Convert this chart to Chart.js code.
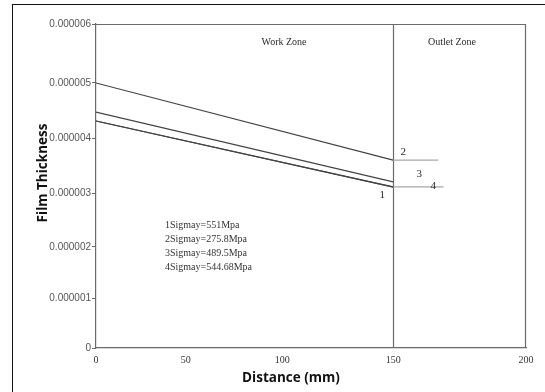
<!DOCTYPE html>
<html>
<head>
<meta charset="utf-8">
<script src="https://cdn.jsdelivr.net/npm/chart.js@4/dist/chart.umd.min.js"></script>
<style>
  html, body { margin: 0; padding: 0; background: #fff; }
  #wrap { position: relative; width: 545px; height: 392px; overflow: hidden; }
  #wrap canvas { position: absolute; left: 0; top: 0; }
  #frame { position: absolute; left: 12px; top: 4px; width: 700px; height: 600px;
           border-left: 1.5px solid #111; border-top: 1.5px solid #111; pointer-events: none; }
</style>
</head>
<body>
<div id="wrap">
  <canvas id="film" width="545" height="392"></canvas>
  <div id="frame"></div>
</div>
<script>
// Film thickness along the contact (work zone 0-150 mm, outlet zone beyond)
const curve1X = [0, 150];
const curve1Y = [4.31e-6, 3.11e-6];          // 1: Sigmay = 551 MPa
const curve2X = [0, 150, 167];
const curve2Y = [5.00e-6, 3.60e-6, 3.60e-6]; // 2: Sigmay = 275.8 MPa
const curve3X = [0, 150];
const curve3Y = [4.47e-6, 3.205e-6];         // 3: Sigmay = 489.5 MPa
const curve4X = [0, 150, 169];
const curve4Y = [4.31e-6, 3.115e-6, 3.115e-6]; // 4: Sigmay = 544.68 MPa

const curveTags = ['1', '2', '3', '4'];
const legendLines = ['1Sigmay=551Mpa', '2Sigmay=275.8Mpa', '3Sigmay=489.5Mpa', '4Sigmay=544.68Mpa'];
const zoneNames = ['Work Zone', 'Outlet Zone'];
const zoneBoundary = 150;

const xTickValues = [0, 50, 100, 150, 200];
const xTickLabels = ['0', '50', '100', '150', '200'];
const yTickValues = [0, 1e-6, 2e-6, 3e-6, 4e-6, 5e-6, 6e-6];
const yTickLabels = ['0', '0.000001', '0.000002', '0.000003', '0.000004', '0.000005', '0.000006'];

// Axis spacing of the original plot is not uniform; each axis is mapped
// piecewise between its tick values.
const knotDecimals = {
  x: [0, 0.209, 0.433, 0.691, 1],
  y: [0, 0.154, 0.312, 0.478, 0.648, 0.818, 1]
};
const knotValues = { x: xTickValues, y: yTickValues };

class KnotScale extends Chart.LinearScale {
  static id = 'knot';
  static defaults = Chart.LinearScale.defaults;
  _toDecimal(v) {
    const vs = knotValues[this.id], ds = knotDecimals[this.id];
    if (v <= vs[0]) return ds[0] + (v - vs[0]) / (vs[1] - vs[0]) * (ds[1] - ds[0]);
    for (let i = 1; i < vs.length; i++) {
      if (v <= vs[i] || i === vs.length - 1) {
        return ds[i - 1] + (v - vs[i - 1]) / (vs[i] - vs[i - 1]) * (ds[i] - ds[i - 1]);
      }
    }
  }
  _fromDecimal(d) {
    const vs = knotValues[this.id], ds = knotDecimals[this.id];
    for (let i = 1; i < ds.length; i++) {
      if (d <= ds[i] || i === ds.length - 1) {
        return vs[i - 1] + (d - ds[i - 1]) / (ds[i] - ds[i - 1]) * (vs[i] - vs[i - 1]);
      }
    }
  }
  getPixelForValue(value) {
    if (value === null || value === undefined || isNaN(value)) return NaN;
    return this.getPixelForDecimal(this._toDecimal(value));
  }
  getValueForPixel(pixel) {
    return this._fromDecimal(this.getDecimalForPixel(pixel));
  }
}
Chart.register(KnotScale);

const pts = (xs, ys) => xs.map((x, i) => ({ x: x, y: ys[i] }));

const LINE = '#444';
const EXT = '#a8a8a8';
const FRAME = '#6a6a6a';

const curveStyle = {
  borderColor: LINE,
  borderWidth: 1.2,
  pointRadius: 0,
  tension: 0,
  fill: false,
  segment: { borderColor: ctx => (ctx.p0.parsed.x >= zoneBoundary ? EXT : LINE) }
};

// Plot frame, zone divider and all the annotation text
const decorations = {
  id: 'decorations',
  beforeDatasetsDraw(chart) {
    const { ctx, chartArea: a, scales: { x } } = chart;
    ctx.save();
    ctx.strokeStyle = FRAME;
    ctx.lineWidth = 1.2;
    ctx.beginPath();
    ctx.moveTo(a.left, a.top + 0.5); ctx.lineTo(a.right, a.top + 0.5);
    ctx.moveTo(a.right - 0.5, a.top); ctx.lineTo(a.right - 0.5, a.bottom);
    const bx = Math.round(x.getPixelForValue(zoneBoundary)) + 0.5;
    ctx.moveTo(bx, a.top); ctx.lineTo(bx, a.bottom);
    ctx.stroke();
    ctx.restore();
  },
  afterDatasetsDraw(chart) {
    const { ctx, scales: { x, y } } = chart;
    ctx.save();
    ctx.fillStyle = '#2a2a2a';
    ctx.textBaseline = 'middle';
    ctx.textAlign = 'center';
    ctx.font = '10px "Liberation Serif", serif';
    // zone captions
    ctx.fillText(zoneNames[0], 284, 42);
    ctx.fillText(zoneNames[1], 452, 42);
    // curve tags near the end of each curve
    const ends = [
      [curve1X[1], curve1Y[1], -11, 8],
      [curve2X[1], curve2Y[1], 10, -8],
      [curve3X[1], curve3Y[1], 26, -8],
      [curve4X[1], curve4Y[1], 40, -1]
    ];
    ctx.font = '11px "Liberation Serif", serif';
    ends.forEach((e, i) => {
      ctx.fillText(curveTags[i], x.getPixelForValue(e[0]) + e[2], y.getPixelForValue(e[1]) + e[3]);
    });
    // key of the yield stresses
    ctx.textAlign = 'left';
    ctx.font = '10px "Liberation Serif", serif';
    ctx.fillStyle = '#333';
    legendLines.forEach((t, i) => ctx.fillText(t, 165, 225 + i * 14));
    // axis titles
    ctx.fillStyle = '#111';
    ctx.font = 'bold 13.5px "Open Sans", sans-serif';
    ctx.textAlign = 'center';
    ctx.fillText('Distance (mm)', 291, 378);
    ctx.translate(43, 173);
    ctx.rotate(-Math.PI / 2);
    ctx.fillText('Film Thickness', 0, 0);
    ctx.restore();
  }
};

new Chart(document.getElementById('film'), {
  type: 'line',
  data: {
    datasets: [
      Object.assign({ label: legendLines[0], data: pts(curve1X, curve1Y) }, curveStyle),
      Object.assign({ label: legendLines[1], data: pts(curve2X, curve2Y) }, curveStyle),
      Object.assign({ label: legendLines[2], data: pts(curve3X, curve3Y) }, curveStyle),
      Object.assign({ label: legendLines[3], data: pts(curve4X, curve4Y) }, curveStyle)
    ]
  },
  options: {
    responsive: false,
    animation: false,
    devicePixelRatio: 1,
    layout: { padding: { left: 0, right: 19, top: 24, bottom: 0 } },
    plugins: { legend: { display: false }, tooltip: { enabled: false } },
    scales: {
      x: {
        type: 'knot',
        min: 0, max: 200,
        afterBuildTicks: s => { s.ticks = xTickValues.map(v => ({ value: v })); },
        afterFit: s => { s.height = 44; },
        border: { display: true, color: FRAME, width: 1.2 },
        grid: { display: true, drawOnChartArea: false, drawTicks: false },
        ticks: {
          padding: 6,
          color: '#333',
          font: { family: '"Liberation Serif", serif', size: 10 },
          maxRotation: 0,
          autoSkip: false,
          callback: (v, i) => xTickLabels[i]
        }
      },
      y: {
        type: 'knot',
        min: 0, max: 6e-6,
        afterBuildTicks: s => { s.ticks = yTickValues.map(v => ({ value: v })); },
        afterFit: s => { s.width = 96; },
        border: { display: true, color: FRAME, width: 1.2 },
        grid: { display: true, drawOnChartArea: false, drawTicks: true, tickLength: 4, color: FRAME },
        ticks: {
          padding: 1,
          color: '#555',
          font: { family: '"Liberation Sans", sans-serif', size: 10 },
          autoSkip: false,
          callback: (v, i) => yTickLabels[i]
        }
      }
    }
  },
  plugins: [decorations]
});
</script>
</body>
</html>
